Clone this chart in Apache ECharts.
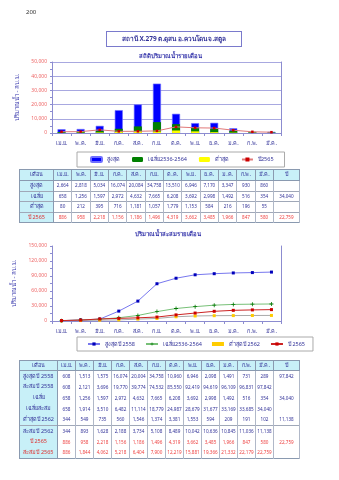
<!DOCTYPE html>
<html><head><meta charset="utf-8">
<script src="https://cdn.jsdelivr.net/npm/echarts@6/dist/echarts.min.js"></script>
<style>
html,body{margin:0;padding:0;background:#fff;}
body{width:339px;height:480px;position:relative;overflow:hidden;font-family:"Noto Sans","DejaVu Sans",sans-serif;}
#chart{position:absolute;left:0;top:0;width:339px;height:480px;}
.t{position:absolute;white-space:nowrap;}
table{position:absolute;border-collapse:collapse;table-layout:fixed;font-size:5px;color:#333399;}
td{padding:0;text-align:center;overflow:hidden;white-space:nowrap;line-height:1;}
</style></head><body>
<div id="chart"></div>
<div class="t" style="left:26px;top:8px;font-size:6px;color:#333;">200</div>
<div class="t" style="left:106px;top:31px;width:134px;height:14px;border:1px solid #7a7acc;font-size:6.5px;font-weight:bold;color:#333399;text-align:center;line-height:14px;">สถานี X.279 ต.ดุสน อ.ควนโดน จ.สตูล</div>
<div class="t" style="left:100px;top:51px;width:140px;font-size:6px;font-weight:bold;color:#3333aa;text-align:center;">สถิติปริมาณน้ำรายเดือน</div>
<div class="t" style="left:98px;top:229px;width:140px;font-size:6px;font-weight:bold;color:#3333aa;text-align:center;">ปริมาณน้ำสะสมรายเดือน</div>
<div id="tables"></div>
<script>
// ---- data ----
const months = ['เม.ย.','พ.ค.','มิ.ย.','ก.ค.','ส.ค.','ก.ย.','ต.ค.','พ.ย.','ธ.ค.','ม.ค.','ก.พ.','มี.ค.'];
const maxMonthly = [2664, 2818, 5034, 16074, 20084, 34758, 13510, 6946, 7170, 3347, 930, 860];
const avgMonthly = [658, 1256, 1597, 2972, 4632, 7665, 6208, 3692, 2998, 1492, 516, 354];
const minMonthly = [80, 212, 395, 716, 1181, 1057, 1779, 1153, 584, 216, 196, 55];
const y2565Monthly = [886, 958, 2218, 1156, 1186, 1496, 4319, 3662, 3485, 1966, 847, 580];
const avgYear = 34040;
const y2565Year = 22759;

const max2558 = [608, 1513, 1575, 16074, 20004, 34758, 10960, 6946, 2098, 1491, 731, 289];
const cum2558 = [608, 2121, 3696, 19770, 39774, 74532, 85550, 92419, 94619, 96109, 96831, 97842];
const avgCum = [658, 1914, 3510, 6482, 11114, 18779, 24987, 28679, 31677, 33169, 33685, 34040];
const min2562 = [344, 549, 735, 560, 1546, 1374, 3381, 1553, 594, 209, 191, 102];
const cum2562 = [344, 893, 1628, 2188, 3734, 5108, 8489, 10042, 10636, 10845, 11036, 11138];
const cum2565 = [886, 1844, 4062, 5218, 6404, 7900, 12219, 15881, 19366, 21332, 22179, 22759];
const year2558 = 97842, year2562 = 11138;

const fmt = v => (v === null || v === undefined || v === '') ? '' : Number(v).toLocaleString('en-US');

// ---- chart ----
const axisCol = '#8c8cd0';
const chart = echarts.init(document.getElementById('chart'), null, {renderer:'canvas'});
const legendNames = {
  'สูงสุด':'สูงสุด','เฉลี่ย2536-2564':'เฉลี่ย2536-2564','ต่ำสุด':'ต่ำสุด','ปี2565':'ปี2565',
  'c_max':'สูงสุดปี 2558','c_avg':'เฉลี่ย2536-2564','c_min':'ต่ำสุดปี 2562','c_65':'ปี 2565'
};
function xAx(i){return {gridIndex:i,type:'category',data:months,
  axisLine:{lineStyle:{color:axisCol}},axisTick:{show:true,length:3,lineStyle:{color:axisCol}},
  axisLabel:{fontSize:5.5,color:'#333399',margin:7}};}
function yAx(i,max,intv,split){return {gridIndex:i,type:'value',min:0,max:max,interval:intv,
  axisLine:{show:true,lineStyle:{color:axisCol}},axisTick:{show:true,length:2,lineStyle:{color:axisCol}},
  minorTick:{show:true,splitNumber:2,length:2,lineStyle:{color:axisCol}},
  axisLabel:{fontSize:5,color:'#ee6666',margin:5,formatter:v=>fmt(v)},
  splitLine:{show:split,lineStyle:{color:'#a8a8e0',width:1}},
  name:'ปริมาณน้ำ - ลบ.ม.',nameLocation:'middle',nameGap:i===0?29:28,nameRotate:90,
  nameTextStyle:{color:'#3333aa',fontSize:6}};}
function yRight(i,max){return {gridIndex:i,type:'value',min:0,max:max,position:'right',
  axisLine:{show:true,lineStyle:{color:axisCol}},axisTick:{show:false},axisLabel:{show:false},splitLine:{show:false}};}

const option = {
  animation:false,
  textStyle:{fontFamily:'"Noto Sans","DejaVu Sans",sans-serif'},
  grid:[{left:52,top:62,width:229,height:71},{left:52,top:246,width:229,height:75}],
  xAxis:[xAx(0),xAx(1)],
  yAxis:[yAx(0,50000,10000,true),yRight(0,50000),yAx(1,150000,30000,false),yRight(1,150000)],
  legend:[
    {data:['สูงสุด','เฉลี่ย2536-2564','ต่ำสุด','ปี2565'],left:77,top:152,
     borderColor:'#aaa',borderWidth:1,padding:[4,11,4,13],itemGap:12,itemWidth:11,itemHeight:5,
     textStyle:{fontSize:5.5,color:'#333399'},formatter:n=>legendNames[n]},
    {data:['c_max','c_avg',{name:'c_min',icon:'rect'},'c_65'],left:77,top:337,
     borderColor:'#aaa',borderWidth:1,padding:[4,8,4,10],itemGap:10,itemWidth:12,itemHeight:4,
     textStyle:{fontSize:5.5,color:'#333399'},formatter:n=>legendNames[n]}
  ],
  series:[
    {name:'สูงสุด',type:'bar',xAxisIndex:0,yAxisIndex:0,data:maxMonthly,barWidth:8,barGap:'-100%',
     itemStyle:{color:'#0000ff',borderColor:'#6f6fff',borderWidth:0.6}},
    {name:'เฉลี่ย2536-2564',type:'bar',xAxisIndex:0,yAxisIndex:0,data:avgMonthly,barWidth:8,barGap:'-100%',
     itemStyle:{color:'#008000'}},
    {name:'ต่ำสุด',type:'bar',xAxisIndex:0,yAxisIndex:0,data:minMonthly,barWidth:8,barGap:'-100%',
     itemStyle:{color:'#ffff00'}},
    {name:'ปี2565',type:'line',xAxisIndex:0,yAxisIndex:0,data:y2565Monthly,symbol:'rect',symbolSize:2.5,
     lineStyle:{color:'#e07878',width:1},itemStyle:{color:'#cc0000'}},
    {name:'c_max',type:'line',xAxisIndex:1,yAxisIndex:2,data:cum2558,symbol:'rect',symbolSize:3,
     lineStyle:{color:'#7777ee',width:1},itemStyle:{color:'#0000bb'}},
    {name:'c_avg',type:'line',xAxisIndex:1,yAxisIndex:2,data:avgCum,
     symbol:'path://M2,0H3V2H5V3H3V5H2V3H0V2H2Z',symbolSize:4,
     lineStyle:{color:'#77c077',width:1},itemStyle:{color:'#007700'}},
    {name:'c_min',type:'line',xAxisIndex:1,yAxisIndex:2,data:cum2562,symbol:'rect',symbolSize:3,
     lineStyle:{color:'#aaaaaa',width:1},itemStyle:{color:'#ffcc00'}},
    {name:'c_65',type:'line',xAxisIndex:1,yAxisIndex:2,data:cum2565,symbol:'rect',symbolSize:3,
     lineStyle:{color:'#cc2222',width:1},itemStyle:{color:'#cc0000'}}
  ]
};
chart.setOption(option);

// ---- tables ----
const cyan = '#c8f0f8';
function buildTable(opts){
  const t = document.createElement('table');
  t.style.left = opts.left+'px'; t.style.top = opts.top+'px';
  t.style.width = opts.width+'px';
  t.style.border = '1px solid #8a9ab0';
  const cg = document.createElement('colgroup');
  opts.cols.forEach(w=>{const c=document.createElement('col');c.style.width=w+'px';cg.appendChild(c);});
  t.appendChild(cg);
  const hdr = document.createElement('tr'); hdr.style.height = opts.headH+'px';
  ['เดือน',...months,'ปี'].forEach(h=>{const td=document.createElement('td');td.textContent=h;
    td.style.background=cyan;td.style.border='1px solid #8a9ab0';td.style.fontSize='5.5px';td.style.color='#333399';hdr.appendChild(td);});
  t.appendChild(hdr);
  opts.rows.forEach((r,ri)=>{
    const tr=document.createElement('tr'); tr.style.height=opts.rowH+'px';
    const l=document.createElement('td'); l.textContent=r.label; l.style.background=cyan;
    l.style.fontSize='5.5px'; l.style.color=r.red?'#dd3333':'#333399';
    l.style.borderLeft='1px solid #8a9ab0'; l.style.borderRight='1px solid #8a9ab0';
    tr.appendChild(l);
    [...r.vals, r.year].forEach(v=>{const td=document.createElement('td');td.textContent=fmt(v);
      td.style.color=r.red?'#ee4444':'#333399';td.style.fontSize='4.6px';
      td.style.borderLeft='1px solid #b0b8c8';td.style.borderRight='1px solid #b0b8c8';tr.appendChild(td);});
    if(opts.allLines || r.lineTop){[...tr.children].forEach(td=>td.style.borderTop='1px solid #a0a8b8');}
    t.appendChild(tr);
  });
  document.getElementById('tables').appendChild(t);
}
const mw1 = 220/12;
buildTable({left:19,top:169,width:280,cols:[34,...months.map(()=>mw1),26],headH:11,rowH:10.5,allLines:true,rows:[
  {label:'สูงสุด',vals:maxMonthly,year:''},
  {label:'เฉลี่ย',vals:avgMonthly,year:avgYear},
  {label:'ต่ำสุด',vals:minMonthly,year:''},
  {label:'ปี 2565',vals:y2565Monthly,year:y2565Year,red:true}
]});
buildTable({left:19,top:360,width:280,cols:[38,...months.map(()=>18),26],headH:10,rowH:11,allLines:false,rows:[
  {label:'สูงสุดปี 2558',vals:max2558,year:year2558},
  {label:'สะสมปี 2558',vals:cum2558,year:''},
  {label:'เฉลี่ย',vals:avgMonthly,year:avgYear},
  {label:'เฉลี่ยสะสม',vals:avgCum,year:''},
  {label:'ต่ำสุดปี 2562',vals:min2562,year:year2562},
  {label:'สะสมปี 2562',vals:cum2562,year:'',lineTop:true},
  {label:'ปี 2565',vals:y2565Monthly,year:y2565Year,red:true},
  {label:'สะสมปี 2565',vals:cum2565,year:'',red:true}
]});
</script>
</body></html>
